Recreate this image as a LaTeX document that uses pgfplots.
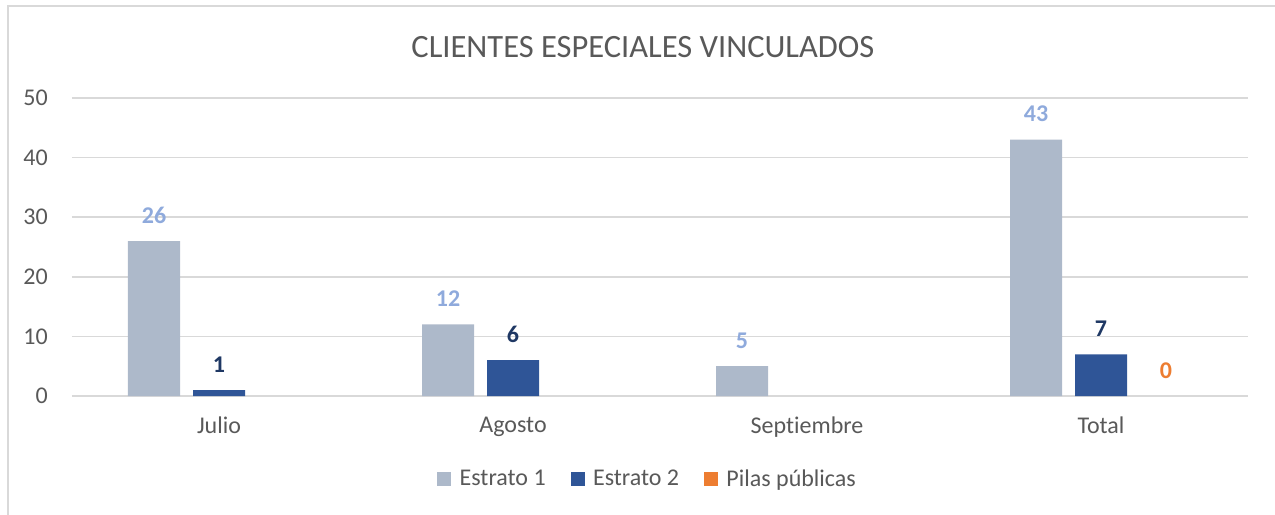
\documentclass[border=0pt]{standalone}
\usepackage{pgfplots}
\pgfplotsset{compat=1.18}
\usepackage{fontspec}
\setmainfont{Carlito}[Ligatures=NoCommon]
\definecolor{est1}{HTML}{ADB9CA}
\definecolor{est2}{HTML}{2F5597}
\definecolor{pilas}{HTML}{ED7D31}
\definecolor{lab1}{HTML}{8FAADC}
\definecolor{lab2}{HTML}{1F3864}
\definecolor{txt}{HTML}{595959}
\definecolor{gridc}{HTML}{D9D9D9}
\begin{document}
\begin{tikzpicture}
\begin{axis}[
  at={(0,0)}, anchor=south west,
  scale only axis, width=705.6pt, height=178.8pt,
  clip=false,
  ybar=7.8pt, bar width=31.2pt,
  xmin=-0.5, xmax=3.5, ymin=0, ymax=50,
  xtick={0,1,2,3}, xticklabels={Julio,Agosto,Septiembre,Total},
  ytick={0,10,...,50},
  major tick length=0pt,
  axis line style={draw=none},
  ymajorgrids, grid style={gridc, line width=0.9pt},
  /pgf/number format/assume math mode=true,
  tick label style={font=\fontsize{14.4}{16}\selectfont, text=txt},
  xticklabel style={anchor=north, inner sep=0pt, yshift=-12.5pt},
  yticklabel style={anchor=east, inner sep=0pt, xshift=-14.4pt},
  nodes near coords,
  nodes near coords style={font=\bfseries\fontsize{14.4}{16}\selectfont, anchor=south, inner sep=0pt, yshift=10.5pt},
  legend style={at={(0.49,-0.2785)}, anchor=center, draw=none, legend columns=-1,
    font=\fontsize{14.4}{16}\selectfont, text=txt,
    /tikz/every even column/.append style={column sep=13pt},
    /tikz/every odd column/.append style={column sep=3pt}},
  legend image code/.code={\fill[#1] (0pt,-4.2pt) rectangle (8.4pt,4.2pt);},
]
  \addplot[fill=est1, draw=none, nodes near coords style={text=lab1}]
    coordinates {(0,26) (1,12) (2,5) (3,43)};
  \addplot[fill=est2, draw=none, nodes near coords style={text=lab2}]
    coordinates {(0,1) (1,6) (3,7)};
  \addplot[fill=none, draw=none, nodes near coords style={text=pilas},
    legend image code/.code={\fill[pilas] (0pt,-4.2pt) rectangle (8.4pt,4.2pt);}]
    coordinates {(3,0)};
  \legend{Estrato 1, Estrato 2, Pilas públicas}
  \node[font=\fontsize{19.5}{22}\selectfont, text=txt] at (rel axis cs:0.4855,1.171) {CLIENTES ESPECIALES VINCULADOS};
\end{axis}
\draw[gridc, line width=0.9pt] (-38.4pt,-90pt) -- (-38.4pt,234pt) -- (780pt,234pt);
\pgfresetboundingbox
\path[use as bounding box] (-43.2pt,-70.8pt) rectangle (721.8pt,237.6pt);
\end{tikzpicture}
\end{document}
